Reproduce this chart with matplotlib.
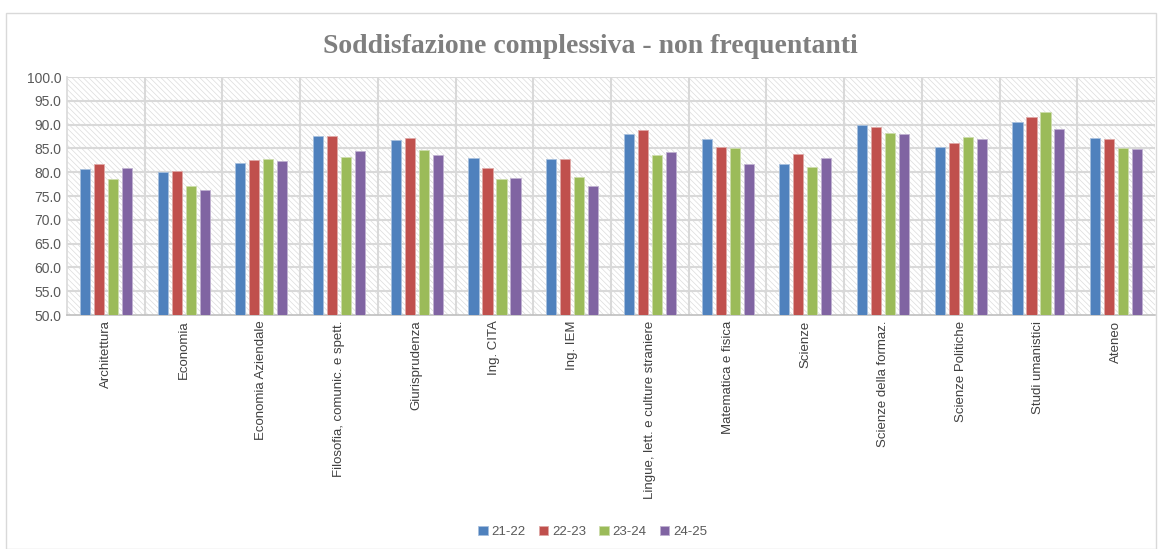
import numpy as np
import matplotlib.pyplot as plt
from matplotlib.patches import Rectangle

categories = ['Architettura', 'Economia', 'Economia Aziendale', 'Filosofia, comunic. e spett.',
              'Giurisprudenza', 'Ing. CITA', 'Ing. IEM', 'Lingue, lett. e culture straniere',
              'Matematica e fisica', 'Scienze', 'Scienze della formaz.', 'Scienze Politiche',
              'Studi umanistici', 'Ateneo']
years = ['21-22', '22-23', '23-24', '24-25']

v_21_22 = [80.7, 80.0, 81.9, 87.7, 86.8, 83.0, 82.8, 88.0, 87.0, 81.7, 89.9, 85.3, 90.5, 87.1]
v_22_23 = [81.8, 80.2, 82.5, 87.6, 87.1, 80.8, 82.8, 88.8, 85.3, 83.8, 89.4, 86.1, 91.7, 86.9]
v_23_24 = [78.5, 77.2, 82.8, 83.3, 84.7, 78.5, 79.0, 83.6, 85.0, 81.1, 88.2, 87.3, 92.6, 85.1]
v_24_25 = [80.8, 76.2, 82.3, 84.5, 83.6, 78.7, 77.2, 84.3, 81.7, 83.0, 88.1, 86.9, 89.1, 84.8]

colors = ['#4F81BD', '#C0504D', '#9BBB59', '#8064A2']
edges = ['#A7C0DE', '#DFA8A6', '#CDDDAC', '#BFB1D0']

plt.rcParams['font.family'] = ['Liberation Sans', 'DejaVu Sans']
plt.rcParams['hatch.color'] = '#dcdcdc'
plt.rcParams['hatch.linewidth'] = 0.5

fig = plt.figure(figsize=(11.62, 5.49), dpi=100)
ax = fig.add_axes([0.0577, 0.4262, 0.9363, 0.4335])

# outer chart frame
fig.patches.append(Rectangle((0.005, 0.0), 0.99, 0.976, transform=fig.transFigure,
                             fill=False, edgecolor='#d9d9d9', linewidth=1.0))

# hatched plot background
ax.add_patch(Rectangle((0, 0), 1, 1, transform=ax.transAxes, facecolor='white',
                       edgecolor='#dcdcdc', hatch='\\\\\\\\\\\\', linewidth=0, zorder=0))

x = np.arange(len(categories))
width = 0.13
step = 0.18
series = [v_21_22, v_22_23, v_23_24, v_24_25]
for i, (vals, yr) in enumerate(zip(series, years)):
    ax.bar(x + (i - 1.5) * step, vals, width, bottom=0, color=colors[i],
           edgecolor=edges[i], linewidth=0.6, label=yr, zorder=3)

ax.set_ylim(50, 100)
ax.set_xlim(-0.5, len(categories) - 0.5)
ax.set_yticks(np.arange(50, 100.1, 5))
ax.set_yticklabels([f'{v:.1f}' for v in np.arange(50, 100.1, 5)], fontsize=10, color='#595959')
ax.set_xticks(x)
ax.set_xticklabels(categories, rotation=90, fontsize=9.5, color='#404040')
ax.tick_params(axis='both', length=0, pad=4)

for yv in np.arange(55, 100.1, 5):
    ax.axhline(yv, color='#d9d9d9', linewidth=1.5, zorder=1)
for xv in np.arange(0.5, len(categories) - 0.5, 1):
    ax.axvline(xv, color='#d9d9d9', linewidth=1.5, zorder=1)

for s in ['top', 'right']:
    ax.spines[s].set_visible(False)
ax.spines['left'].set_color('#d9d9d9')
ax.spines['bottom'].set_color('#bfbfbf')
ax.spines['left'].set_linewidth(1.2)
ax.spines['bottom'].set_linewidth(1.2)

fig.text(0.508, 0.916, 'Soddisfazione complessiva - non frequentanti', ha='center', va='center',
         fontsize=20, fontweight='bold', color='#7f7f7f', family=['Liberation Serif', 'DejaVu Serif'])

fig.legend(loc='center', bbox_to_anchor=(0.51, 0.031), ncol=4, frameon=False, fontsize=9.5,
           handlelength=0.7, handleheight=0.7, handletextpad=0.3, columnspacing=1.0,
           labelcolor='#595959')

fig.savefig('out.png', dpi=100)
